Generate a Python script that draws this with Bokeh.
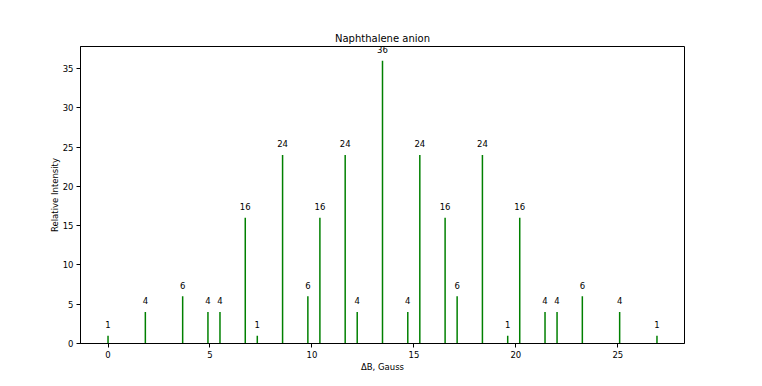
from bokeh.plotting import figure
from bokeh.models import ColumnDataSource, FixedTicker, Range1d
from bokeh.embed import file_html
from bokeh.resources import INLINE
from bokeh.core.properties import value

# Line positions (Gauss) and relative intensities
positions = [0.0, 1.83, 3.66, 4.90, 5.49, 6.73, 7.32, 8.56, 9.80, 10.39,
             11.63, 12.22, 13.46, 14.70, 15.29, 16.53, 17.12, 18.36, 19.60,
             20.19, 21.43, 22.02, 23.26, 25.09, 26.92]
intensities = [1, 4, 6, 4, 4, 16, 1, 24, 6, 16,
               24, 4, 36, 4, 24, 16, 6, 24, 1,
               16, 4, 4, 6, 4, 1]
x_ticks = [0, 5, 10, 15, 20, 25]
y_ticks = [0, 5, 10, 15, 20, 25, 30, 35]

labels = [str(v) for v in intensities]
label_y = [v + 1 for v in intensities]
zeros = [0] * len(positions)

src = ColumnDataSource(dict(x=positions, y0=zeros, y1=intensities,
                            ly=label_y, lab=labels))

FONT = "DejaVu Sans"

p = figure(frame_width=604, frame_height=297, output_backend="svg",
           toolbar_location=None, title="Naphthalene anion",
           x_range=Range1d(-1.35, 28.27), y_range=Range1d(0, 37.8),
           min_border_left=80, min_border_top=46, min_border_right=50,
           min_border_bottom=26)

p.segment(x0="x", y0="y0", x1="x", y1="y1", source=src,
          line_color="#008000", line_width=1.5)
p.text(x="x", y="ly", text="lab", source=src, text_align="center",
       text_baseline="bottom", text_font=value(FONT),
       text_font_size="8.5px", text_color="black")

p.title.align = "center"
p.title.text_font = FONT
p.title.text_font_style = "normal"
p.title.text_font_size = "10px"
p.title.text_color = "black"
p.title.standoff = 5

p.xgrid.visible = False
p.ygrid.visible = False
p.outline_line_color = "black"
p.outline_line_width = 1
p.outline_line_alpha = 1
p.background_fill_color = "white"
p.border_fill_color = "white"

p.xaxis.axis_label = "ΔB, Gauss"
p.yaxis.axis_label = "Relative Intensity"
p.xaxis.ticker = FixedTicker(ticks=x_ticks)
p.yaxis.ticker = FixedTicker(ticks=y_ticks)
for ax in (p.xaxis, p.yaxis):
    ax.minor_tick_line_color = None
    ax.major_tick_in = 0
    ax.major_tick_out = 4
    ax.major_tick_line_color = "black"
    ax.axis_line_color = "black"
    ax.major_label_text_font = FONT
    ax.major_label_text_font_size = "8.5px"
    ax.major_label_text_color = "black"
    ax.axis_label_text_font = FONT
    ax.axis_label_text_font_size = "8.5px"
    ax.axis_label_text_font_style = "normal"
    ax.axis_label_text_color = "black"
    ax.major_label_standoff = 3
p.xaxis.axis_label_standoff = 1
p.yaxis.axis_label_standoff = 0

open("out.html", "w").write(file_html(p, INLINE))
